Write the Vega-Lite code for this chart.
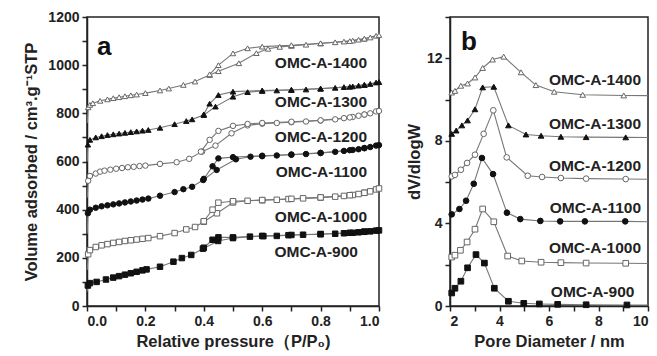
{
"$schema": "https://vega.github.io/schema/vega-lite/v6.json",
"background": "white",
"padding": {"left": 23, "top": 9, "right": 0, "bottom": 2},
"spacing": 20,
"config": {
 "view": {"stroke": "#222", "strokeWidth": 1.5},
 "axis": {"labelFont": "Liberation Sans", "labelFontWeight": "bold", "labelFontSize": 14, "labelColor": "#222", "titleFont": "Liberation Sans", "titleFontWeight": "bold", "titleFontSize": 16.5, "titleColor": "#222", "domainColor": "#222", "domainWidth": 1.5, "tickColor": "#222", "tickWidth": 1.5, "tickSize": 5, "grid": false, "labelPadding": 3}
},
"datasets": {
 "iso": [
  {"s":"900","b":"a","p":0.001,"v":60},{"s":"900","b":"a","p":0.003,"v":85},{"s":"900","b":"a","p":0.01,"v":95},{"s":"900","b":"a","p":0.033,"v":100},{"s":"900","b":"a","p":0.065,"v":110},{"s":"900","b":"a","p":0.09,"v":118},{"s":"900","b":"a","p":0.11,"v":124},{"s":"900","b":"a","p":0.13,"v":130},{"s":"900","b":"a","p":0.15,"v":136},{"s":"900","b":"a","p":0.17,"v":142},{"s":"900","b":"a","p":0.19,"v":148},{"s":"900","b":"a","p":0.204,"v":152},{"s":"900","b":"a","p":0.25,"v":163},{"s":"900","b":"a","p":0.296,"v":184},{"s":"900","b":"a","p":0.325,"v":199},{"s":"900","b":"a","p":0.357,"v":212},{"s":"900","b":"a","p":0.397,"v":238},{"s":"900","b":"a","p":0.449,"v":270},{"s":"900","b":"a","p":0.5,"v":282},{"s":"900","b":"a","p":0.558,"v":288},{"s":"900","b":"a","p":0.604,"v":290},{"s":"900","b":"a","p":0.65,"v":291},{"s":"900","b":"a","p":0.69,"v":294},{"s":"900","b":"a","p":0.74,"v":296},{"s":"900","b":"a","p":0.8,"v":298},{"s":"900","b":"a","p":0.85,"v":300},{"s":"900","b":"a","p":0.88,"v":302},{"s":"900","b":"a","p":0.91,"v":304},{"s":"900","b":"a","p":0.93,"v":306},{"s":"900","b":"a","p":0.95,"v":308},{"s":"900","b":"a","p":0.97,"v":310},{"s":"900","b":"a","p":0.99,"v":313},
  {"s":"900","b":"d","p":1.0,"v":314},{"s":"900","b":"d","p":0.95,"v":309},{"s":"900","b":"d","p":0.9,"v":304},{"s":"900","b":"d","p":0.8,"v":299},{"s":"900","b":"d","p":0.7,"v":295},{"s":"900","b":"d","p":0.6,"v":291},{"s":"900","b":"d","p":0.5,"v":285},{"s":"900","b":"d","p":0.45,"v":285},{"s":"900","b":"d","p":0.43,"v":275},{"s":"900","b":"d","p":0.4,"v":242},
  {"s":"1000","b":"a","p":0.001,"v":150},{"s":"1000","b":"a","p":0.004,"v":215},{"s":"1000","b":"a","p":0.01,"v":232},{"s":"1000","b":"a","p":0.03,"v":245},{"s":"1000","b":"a","p":0.05,"v":252},{"s":"1000","b":"a","p":0.07,"v":257},{"s":"1000","b":"a","p":0.09,"v":262},{"s":"1000","b":"a","p":0.11,"v":266},{"s":"1000","b":"a","p":0.13,"v":270},{"s":"1000","b":"a","p":0.15,"v":273},{"s":"1000","b":"a","p":0.17,"v":276},{"s":"1000","b":"a","p":0.19,"v":279},{"s":"1000","b":"a","p":0.21,"v":282},{"s":"1000","b":"a","p":0.25,"v":290},{"s":"1000","b":"a","p":0.3,"v":303},{"s":"1000","b":"a","p":0.34,"v":318},{"s":"1000","b":"a","p":0.37,"v":328},{"s":"1000","b":"a","p":0.4,"v":350},{"s":"1000","b":"a","p":0.445,"v":385},{"s":"1000","b":"a","p":0.5,"v":430},{"s":"1000","b":"a","p":0.55,"v":437},{"s":"1000","b":"a","p":0.6,"v":439},{"s":"1000","b":"a","p":0.65,"v":441},{"s":"1000","b":"a","p":0.69,"v":444},{"s":"1000","b":"a","p":0.74,"v":447},{"s":"1000","b":"a","p":0.8,"v":450},{"s":"1000","b":"a","p":0.85,"v":454},{"s":"1000","b":"a","p":0.88,"v":457},{"s":"1000","b":"a","p":0.91,"v":461},{"s":"1000","b":"a","p":0.93,"v":465},{"s":"1000","b":"a","p":0.95,"v":470},{"s":"1000","b":"a","p":0.97,"v":476},{"s":"1000","b":"a","p":0.99,"v":484},
  {"s":"1000","b":"d","p":1.0,"v":488},{"s":"1000","b":"d","p":0.95,"v":470},{"s":"1000","b":"d","p":0.9,"v":460},{"s":"1000","b":"d","p":0.8,"v":451},{"s":"1000","b":"d","p":0.7,"v":445},{"s":"1000","b":"d","p":0.6,"v":440},{"s":"1000","b":"d","p":0.5,"v":435},{"s":"1000","b":"d","p":0.45,"v":429},{"s":"1000","b":"d","p":0.43,"v":400},{"s":"1000","b":"d","p":0.4,"v":352},
  {"s":"1100","b":"a","p":0.001,"v":300},{"s":"1100","b":"a","p":0.003,"v":385},{"s":"1100","b":"a","p":0.01,"v":400},{"s":"1100","b":"a","p":0.03,"v":408},{"s":"1100","b":"a","p":0.05,"v":414},{"s":"1100","b":"a","p":0.07,"v":418},{"s":"1100","b":"a","p":0.09,"v":422},{"s":"1100","b":"a","p":0.11,"v":426},{"s":"1100","b":"a","p":0.13,"v":430},{"s":"1100","b":"a","p":0.15,"v":434},{"s":"1100","b":"a","p":0.17,"v":438},{"s":"1100","b":"a","p":0.19,"v":442},{"s":"1100","b":"a","p":0.21,"v":446},{"s":"1100","b":"a","p":0.25,"v":458},{"s":"1100","b":"a","p":0.3,"v":473},{"s":"1100","b":"a","p":0.33,"v":485},{"s":"1100","b":"a","p":0.36,"v":495},{"s":"1100","b":"a","p":0.398,"v":523},{"s":"1100","b":"a","p":0.444,"v":565},{"s":"1100","b":"a","p":0.51,"v":609},{"s":"1100","b":"a","p":0.56,"v":620},{"s":"1100","b":"a","p":0.6,"v":622},{"s":"1100","b":"a","p":0.65,"v":625},{"s":"1100","b":"a","p":0.7,"v":628},{"s":"1100","b":"a","p":0.75,"v":631},{"s":"1100","b":"a","p":0.8,"v":635},{"s":"1100","b":"a","p":0.85,"v":640},{"s":"1100","b":"a","p":0.88,"v":644},{"s":"1100","b":"a","p":0.91,"v":648},{"s":"1100","b":"a","p":0.93,"v":651},{"s":"1100","b":"a","p":0.95,"v":655},{"s":"1100","b":"a","p":0.97,"v":660},{"s":"1100","b":"a","p":0.99,"v":666},
  {"s":"1100","b":"d","p":1.0,"v":668},{"s":"1100","b":"d","p":0.95,"v":656},{"s":"1100","b":"d","p":0.9,"v":647},{"s":"1100","b":"d","p":0.8,"v":636},{"s":"1100","b":"d","p":0.7,"v":629},{"s":"1100","b":"d","p":0.6,"v":624},{"s":"1100","b":"d","p":0.5,"v":618},{"s":"1100","b":"d","p":0.45,"v":613},{"s":"1100","b":"d","p":0.43,"v":580},{"s":"1100","b":"d","p":0.4,"v":528},
  {"s":"1200","b":"a","p":0.001,"v":450},{"s":"1200","b":"a","p":0.004,"v":520},{"s":"1200","b":"a","p":0.01,"v":540},{"s":"1200","b":"a","p":0.03,"v":550},{"s":"1200","b":"a","p":0.045,"v":558},{"s":"1200","b":"a","p":0.06,"v":562},{"s":"1200","b":"a","p":0.08,"v":566},{"s":"1200","b":"a","p":0.1,"v":570},{"s":"1200","b":"a","p":0.12,"v":573},{"s":"1200","b":"a","p":0.14,"v":576},{"s":"1200","b":"a","p":0.16,"v":578},{"s":"1200","b":"a","p":0.18,"v":581},{"s":"1200","b":"a","p":0.2,"v":583},{"s":"1200","b":"a","p":0.25,"v":590},{"s":"1200","b":"a","p":0.307,"v":597},{"s":"1200","b":"a","p":0.35,"v":611},{"s":"1200","b":"a","p":0.394,"v":641},{"s":"1200","b":"a","p":0.44,"v":666},{"s":"1200","b":"a","p":0.495,"v":717},{"s":"1200","b":"a","p":0.55,"v":750},{"s":"1200","b":"a","p":0.6,"v":757},{"s":"1200","b":"a","p":0.65,"v":760},{"s":"1200","b":"a","p":0.7,"v":763},{"s":"1200","b":"a","p":0.75,"v":766},{"s":"1200","b":"a","p":0.8,"v":770},{"s":"1200","b":"a","p":0.85,"v":775},{"s":"1200","b":"a","p":0.88,"v":780},{"s":"1200","b":"a","p":0.91,"v":785},{"s":"1200","b":"a","p":0.93,"v":790},{"s":"1200","b":"a","p":0.95,"v":795},{"s":"1200","b":"a","p":0.97,"v":800},{"s":"1200","b":"a","p":0.99,"v":808},
  {"s":"1200","b":"d","p":1.0,"v":810},{"s":"1200","b":"d","p":0.95,"v":795},{"s":"1200","b":"d","p":0.9,"v":783},{"s":"1200","b":"d","p":0.8,"v":771},{"s":"1200","b":"d","p":0.7,"v":765},{"s":"1200","b":"d","p":0.6,"v":760},{"s":"1200","b":"d","p":0.55,"v":756},{"s":"1200","b":"d","p":0.5,"v":748},{"s":"1200","b":"d","p":0.45,"v":727},{"s":"1200","b":"d","p":0.42,"v":690},{"s":"1200","b":"d","p":0.39,"v":641},
  {"s":"1300","b":"a","p":0.001,"v":600},{"s":"1300","b":"a","p":0.003,"v":670},{"s":"1300","b":"a","p":0.01,"v":690},{"s":"1300","b":"a","p":0.03,"v":700},{"s":"1300","b":"a","p":0.05,"v":705},{"s":"1300","b":"a","p":0.07,"v":710},{"s":"1300","b":"a","p":0.09,"v":713},{"s":"1300","b":"a","p":0.11,"v":716},{"s":"1300","b":"a","p":0.13,"v":719},{"s":"1300","b":"a","p":0.15,"v":722},{"s":"1300","b":"a","p":0.17,"v":725},{"s":"1300","b":"a","p":0.19,"v":728},{"s":"1300","b":"a","p":0.21,"v":731},{"s":"1300","b":"a","p":0.25,"v":740},{"s":"1300","b":"a","p":0.3,"v":755},{"s":"1300","b":"a","p":0.34,"v":768},{"s":"1300","b":"a","p":0.36,"v":775},{"s":"1300","b":"a","p":0.4,"v":793},{"s":"1300","b":"a","p":0.44,"v":828},{"s":"1300","b":"a","p":0.5,"v":869},{"s":"1300","b":"a","p":0.55,"v":888},{"s":"1300","b":"a","p":0.6,"v":893},{"s":"1300","b":"a","p":0.65,"v":895},{"s":"1300","b":"a","p":0.7,"v":897},{"s":"1300","b":"a","p":0.75,"v":899},{"s":"1300","b":"a","p":0.8,"v":902},{"s":"1300","b":"a","p":0.85,"v":906},{"s":"1300","b":"a","p":0.88,"v":909},{"s":"1300","b":"a","p":0.91,"v":912},{"s":"1300","b":"a","p":0.93,"v":915},{"s":"1300","b":"a","p":0.95,"v":918},{"s":"1300","b":"a","p":0.97,"v":922},{"s":"1300","b":"a","p":0.99,"v":928},
  {"s":"1300","b":"d","p":1.0,"v":930},{"s":"1300","b":"d","p":0.95,"v":918},{"s":"1300","b":"d","p":0.9,"v":910},{"s":"1300","b":"d","p":0.8,"v":903},{"s":"1300","b":"d","p":0.7,"v":898},{"s":"1300","b":"d","p":0.6,"v":895},{"s":"1300","b":"d","p":0.5,"v":890},{"s":"1300","b":"d","p":0.45,"v":876},{"s":"1300","b":"d","p":0.42,"v":840},{"s":"1300","b":"d","p":0.4,"v":796},
  {"s":"1400","b":"a","p":0.001,"v":760},{"s":"1400","b":"a","p":0.004,"v":825},{"s":"1400","b":"a","p":0.01,"v":835},{"s":"1400","b":"a","p":0.02,"v":842},{"s":"1400","b":"a","p":0.045,"v":852},{"s":"1400","b":"a","p":0.07,"v":858},{"s":"1400","b":"a","p":0.09,"v":863},{"s":"1400","b":"a","p":0.11,"v":867},{"s":"1400","b":"a","p":0.13,"v":871},{"s":"1400","b":"a","p":0.15,"v":875},{"s":"1400","b":"a","p":0.17,"v":878},{"s":"1400","b":"a","p":0.2,"v":884},{"s":"1400","b":"a","p":0.25,"v":895},{"s":"1400","b":"a","p":0.28,"v":903},{"s":"1400","b":"a","p":0.33,"v":918},{"s":"1400","b":"a","p":0.37,"v":932},{"s":"1400","b":"a","p":0.42,"v":959},{"s":"1400","b":"a","p":0.45,"v":975},{"s":"1400","b":"a","p":0.52,"v":1008},{"s":"1400","b":"a","p":0.58,"v":1050},{"s":"1400","b":"a","p":0.62,"v":1068},{"s":"1400","b":"a","p":0.66,"v":1076},{"s":"1400","b":"a","p":0.7,"v":1080},{"s":"1400","b":"a","p":0.75,"v":1085},{"s":"1400","b":"a","p":0.8,"v":1090},{"s":"1400","b":"a","p":0.85,"v":1095},{"s":"1400","b":"a","p":0.88,"v":1098},{"s":"1400","b":"a","p":0.91,"v":1102},{"s":"1400","b":"a","p":0.93,"v":1106},{"s":"1400","b":"a","p":0.95,"v":1110},{"s":"1400","b":"a","p":0.97,"v":1115},{"s":"1400","b":"a","p":0.99,"v":1122},
  {"s":"1400","b":"d","p":1.0,"v":1125},{"s":"1400","b":"d","p":0.95,"v":1110},{"s":"1400","b":"d","p":0.9,"v":1100},{"s":"1400","b":"d","p":0.8,"v":1091},{"s":"1400","b":"d","p":0.7,"v":1083},{"s":"1400","b":"d","p":0.6,"v":1077},{"s":"1400","b":"d","p":0.55,"v":1070},{"s":"1400","b":"d","p":0.5,"v":1049},{"s":"1400","b":"d","p":0.45,"v":1000},{"s":"1400","b":"d","p":0.42,"v":962}
 ],
 "psd": [
  {"s":"900","d":2.07,"v":0.63},{"s":"900","d":2.2,"v":0.86},{"s":"900","d":2.44,"v":1.2},{"s":"900","d":2.71,"v":1.85},{"s":"900","d":3.05,"v":2.49},{"s":"900","d":3.39,"v":2.08},{"s":"900","d":3.79,"v":0.86},{"s":"900","d":4.36,"v":0.23},{"s":"900","d":4.98,"v":0.13},{"s":"900","d":5.61,"v":0.1},{"s":"900","d":6.35,"v":0.08},{"s":"900","d":7.5,"v":0.06},{"s":"900","d":9.15,"v":0.05},{"s":"900","d":10,"v":0.05},
  {"s":"1000","d":2.07,"v":2.37},{"s":"1000","d":2.2,"v":2.46},{"s":"1000","d":2.42,"v":2.7},{"s":"1000","d":2.69,"v":3.1},{"s":"1000","d":3.01,"v":3.72},{"s":"1000","d":3.32,"v":4.7},{"s":"1000","d":3.77,"v":4.08},{"s":"1000","d":4.33,"v":2.42},{"s":"1000","d":4.9,"v":2.18},{"s":"1000","d":5.68,"v":2.12},{"s":"1000","d":6.48,"v":2.1},{"s":"1000","d":7.5,"v":2.08},{"s":"1000","d":9.1,"v":2.07},{"s":"1000","d":10,"v":2.06},
  {"s":"1100","d":2.07,"v":4.44},{"s":"1100","d":2.38,"v":4.7},{"s":"1100","d":2.65,"v":5.1},{"s":"1100","d":2.96,"v":5.92},{"s":"1100","d":3.29,"v":7.17},{"s":"1100","d":3.74,"v":6.39},{"s":"1100","d":4.3,"v":4.52},{"s":"1100","d":4.84,"v":4.21},{"s":"1100","d":5.65,"v":4.12},{"s":"1100","d":6.45,"v":4.1},{"s":"1100","d":7.45,"v":4.1},{"s":"1100","d":9.08,"v":4.1},{"s":"1100","d":10,"v":4.08},
  {"s":"1200","d":2.07,"v":6.28},{"s":"1200","d":2.2,"v":6.35},{"s":"1200","d":2.44,"v":6.6},{"s":"1200","d":2.69,"v":6.93},{"s":"1200","d":3.01,"v":7.33},{"s":"1200","d":3.36,"v":8.34},{"s":"1200","d":3.75,"v":9.48},{"s":"1200","d":4.29,"v":7.2},{"s":"1200","d":5.14,"v":6.31},{"s":"1200","d":5.72,"v":6.25},{"s":"1200","d":6.48,"v":6.2},{"s":"1200","d":7.5,"v":6.17},{"s":"1200","d":9.1,"v":6.15},{"s":"1200","d":10,"v":6.14},
  {"s":"1300","d":2.07,"v":8.34},{"s":"1300","d":2.25,"v":8.5},{"s":"1300","d":2.48,"v":8.75},{"s":"1300","d":2.71,"v":8.99},{"s":"1300","d":3.01,"v":9.53},{"s":"1300","d":3.32,"v":10.59},{"s":"1300","d":3.77,"v":10.62},{"s":"1300","d":4.36,"v":8.75},{"s":"1300","d":5.07,"v":8.31},{"s":"1300","d":5.68,"v":8.25},{"s":"1300","d":6.48,"v":8.2},{"s":"1300","d":7.5,"v":8.18},{"s":"1300","d":9.1,"v":8.17},{"s":"1300","d":10,"v":8.16},
  {"s":"1400","d":2.07,"v":10.34},{"s":"1400","d":2.2,"v":10.42},{"s":"1400","d":2.44,"v":10.67},{"s":"1400","d":2.71,"v":10.78},{"s":"1400","d":3.01,"v":11.07},{"s":"1400","d":3.32,"v":11.53},{"s":"1400","d":3.72,"v":11.94},{"s":"1400","d":4.17,"v":12.08},{"s":"1400","d":4.87,"v":11.32},{"s":"1400","d":5.47,"v":10.7},{"s":"1400","d":6.21,"v":10.38},{"s":"1400","d":7.36,"v":10.23},{"s":"1400","d":9.02,"v":10.2},{"s":"1400","d":10,"v":10.19}
 ],
 "labA": [
  {"x":0.959,"y":1010,"t":"OMC-A-1400"},{"x":0.959,"y":848,"t":"OMC-A-1300"},{"x":0.959,"y":703,"t":"OMC-A-1200"},{"x":0.959,"y":558,"t":"OMC-A-1100"},{"x":0.959,"y":371,"t":"OMC-A-1000"},{"x":0.928,"y":226,"t":"OMC-A-900"}
 ],
 "labB": [
  {"x":9.72,"y":10.94,"t":"OMC-A-1400"},{"x":9.72,"y":8.83,"t":"OMC-A-1300"},{"x":9.72,"y":6.77,"t":"OMC-A-1200"},{"x":9.72,"y":4.77,"t":"OMC-A-1100"},{"x":9.72,"y":2.81,"t":"OMC-A-1000"},{"x":9.45,"y":0.7,"t":"OMC-A-900"}
 ]
},
"hconcat": [
 {
  "width": 292, "height": 289,
  "encoding": {
   "x": {"field": "p", "type": "quantitative", "scale": {"domain": [0, 1], "nice": false}, "axis": {"values": [0,0.1,0.2,0.3,0.4,0.5,0.6,0.7,0.8,0.9,1.0], "labelExpr": "round(datum.value*10)%2==0 ? format(datum.value,'.1f') : ''", "title": "Relative pressure（P/P₀)", "titlePadding": 5}},
   "y": {"field": "v", "type": "quantitative", "scale": {"domain": [0, 1200], "nice": false}, "axis": {"values": [0,100,200,300,400,500,600,700,800,900,1000,1100,1200], "labelExpr": "datum.value%200==0 ? format(datum.value,'d') : ''", "title": "Volume adsorbed / cm³.g⁻¹STP", "titlePadding": 8}}
  },
  "layer": [
   {"data": {"name": "iso"}, "mark": {"type": "line", "color": "#777", "strokeWidth": 1.1}, "encoding": {"detail": [{"field": "s"}, {"field": "b"}]}},
   {"data": {"name": "iso"}, "transform": [{"filter": "datum.p > 0.002"}], "mark": {"type": "point", "filled": true, "size": 30, "strokeWidth": 1, "opacity": 1},
    "encoding": {
     "shape": {"field": "s", "type": "nominal", "scale": {"domain": ["900","1000","1100","1200","1300","1400"], "range": ["square","square","circle","circle","triangle-up","triangle-up"]}, "legend": null},
     "fill": {"field": "s", "type": "nominal", "scale": {"domain": ["900","1000","1100","1200","1300","1400"], "range": ["#111","white","#111","white","#111","white"]}, "legend": null},
     "stroke": {"field": "s", "type": "nominal", "scale": {"domain": ["900","1000","1100","1200","1300","1400"], "range": ["#111","#666","#111","#666","#111","#666"]}, "legend": null}
    }},
   {"data": {"name": "labA"}, "mark": {"type": "text", "align": "right", "baseline": "middle", "font": "Liberation Sans", "fontWeight": "bold", "fontSize": 15.5, "color": "#222"},
    "encoding": {"x": {"field": "x", "type": "quantitative"}, "y": {"field": "y", "type": "quantitative"}, "text": {"field": "t"}}},
   {"data": {"values": [{"x": 0.034, "y": 1076, "t": "a"}]}, "mark": {"type": "text", "align": "left", "baseline": "middle", "font": "Liberation Sans", "fontWeight": "bold", "fontSize": 26, "color": "#111"},
    "encoding": {"x": {"field": "x", "type": "quantitative"}, "y": {"field": "y", "type": "quantitative"}, "text": {"field": "t"}}}
  ]
 },
 {
  "width": 198, "height": 289,
  "encoding": {
   "x": {"field": "d", "type": "quantitative", "scale": {"domain": [2, 10], "nice": false}, "axis": {"values": [2,3,4,5,6,7,8,9,10], "labelExpr": "datum.value%2==0 ? datum.label : ''", "title": "Pore Diameter / nm", "titlePadding": 5}},
   "y": {"field": "v", "type": "quantitative", "scale": {"domain": [0, 14], "nice": false}, "axis": {"values": [0,2,4,6,8,10,12,14], "labelExpr": "datum.value%4==0 ? datum.label : ''", "title": "dV/dlogW", "titlePadding": 4}}
  },
  "layer": [
   {"data": {"name": "psd"}, "mark": {"type": "line", "color": "#777", "strokeWidth": 1.1}, "encoding": {"detail": {"field": "s"}}},
   {"data": {"name": "psd"}, "transform": [{"filter": "datum.d < 9.9"}], "mark": {"type": "point", "filled": true, "size": 32, "strokeWidth": 1, "opacity": 1},
    "encoding": {
     "shape": {"field": "s", "type": "nominal", "scale": {"domain": ["900","1000","1100","1200","1300","1400"], "range": ["square","square","circle","circle","triangle-up","triangle-up"]}, "legend": null},
     "fill": {"field": "s", "type": "nominal", "scale": {"domain": ["900","1000","1100","1200","1300","1400"], "range": ["#111","white","#111","white","#111","white"]}, "legend": null},
     "stroke": {"field": "s", "type": "nominal", "scale": {"domain": ["900","1000","1100","1200","1300","1400"], "range": ["#111","#666","#111","#666","#111","#666"]}, "legend": null}
    }},
   {"data": {"name": "labB"}, "mark": {"type": "text", "align": "right", "baseline": "middle", "font": "Liberation Sans", "fontWeight": "bold", "fontSize": 15.5, "color": "#222"},
    "encoding": {"x": {"field": "x", "type": "quantitative"}, "y": {"field": "y", "type": "quantitative"}, "text": {"field": "t"}}},
   {"data": {"values": [{"x": 2.44, "y": 12.8, "t": "b"}]}, "mark": {"type": "text", "align": "left", "baseline": "middle", "font": "Liberation Sans", "fontWeight": "bold", "fontSize": 26, "color": "#111"},
    "encoding": {"x": {"field": "x", "type": "quantitative"}, "y": {"field": "y", "type": "quantitative"}, "text": {"field": "t"}}}
  ]
 }
]
}
